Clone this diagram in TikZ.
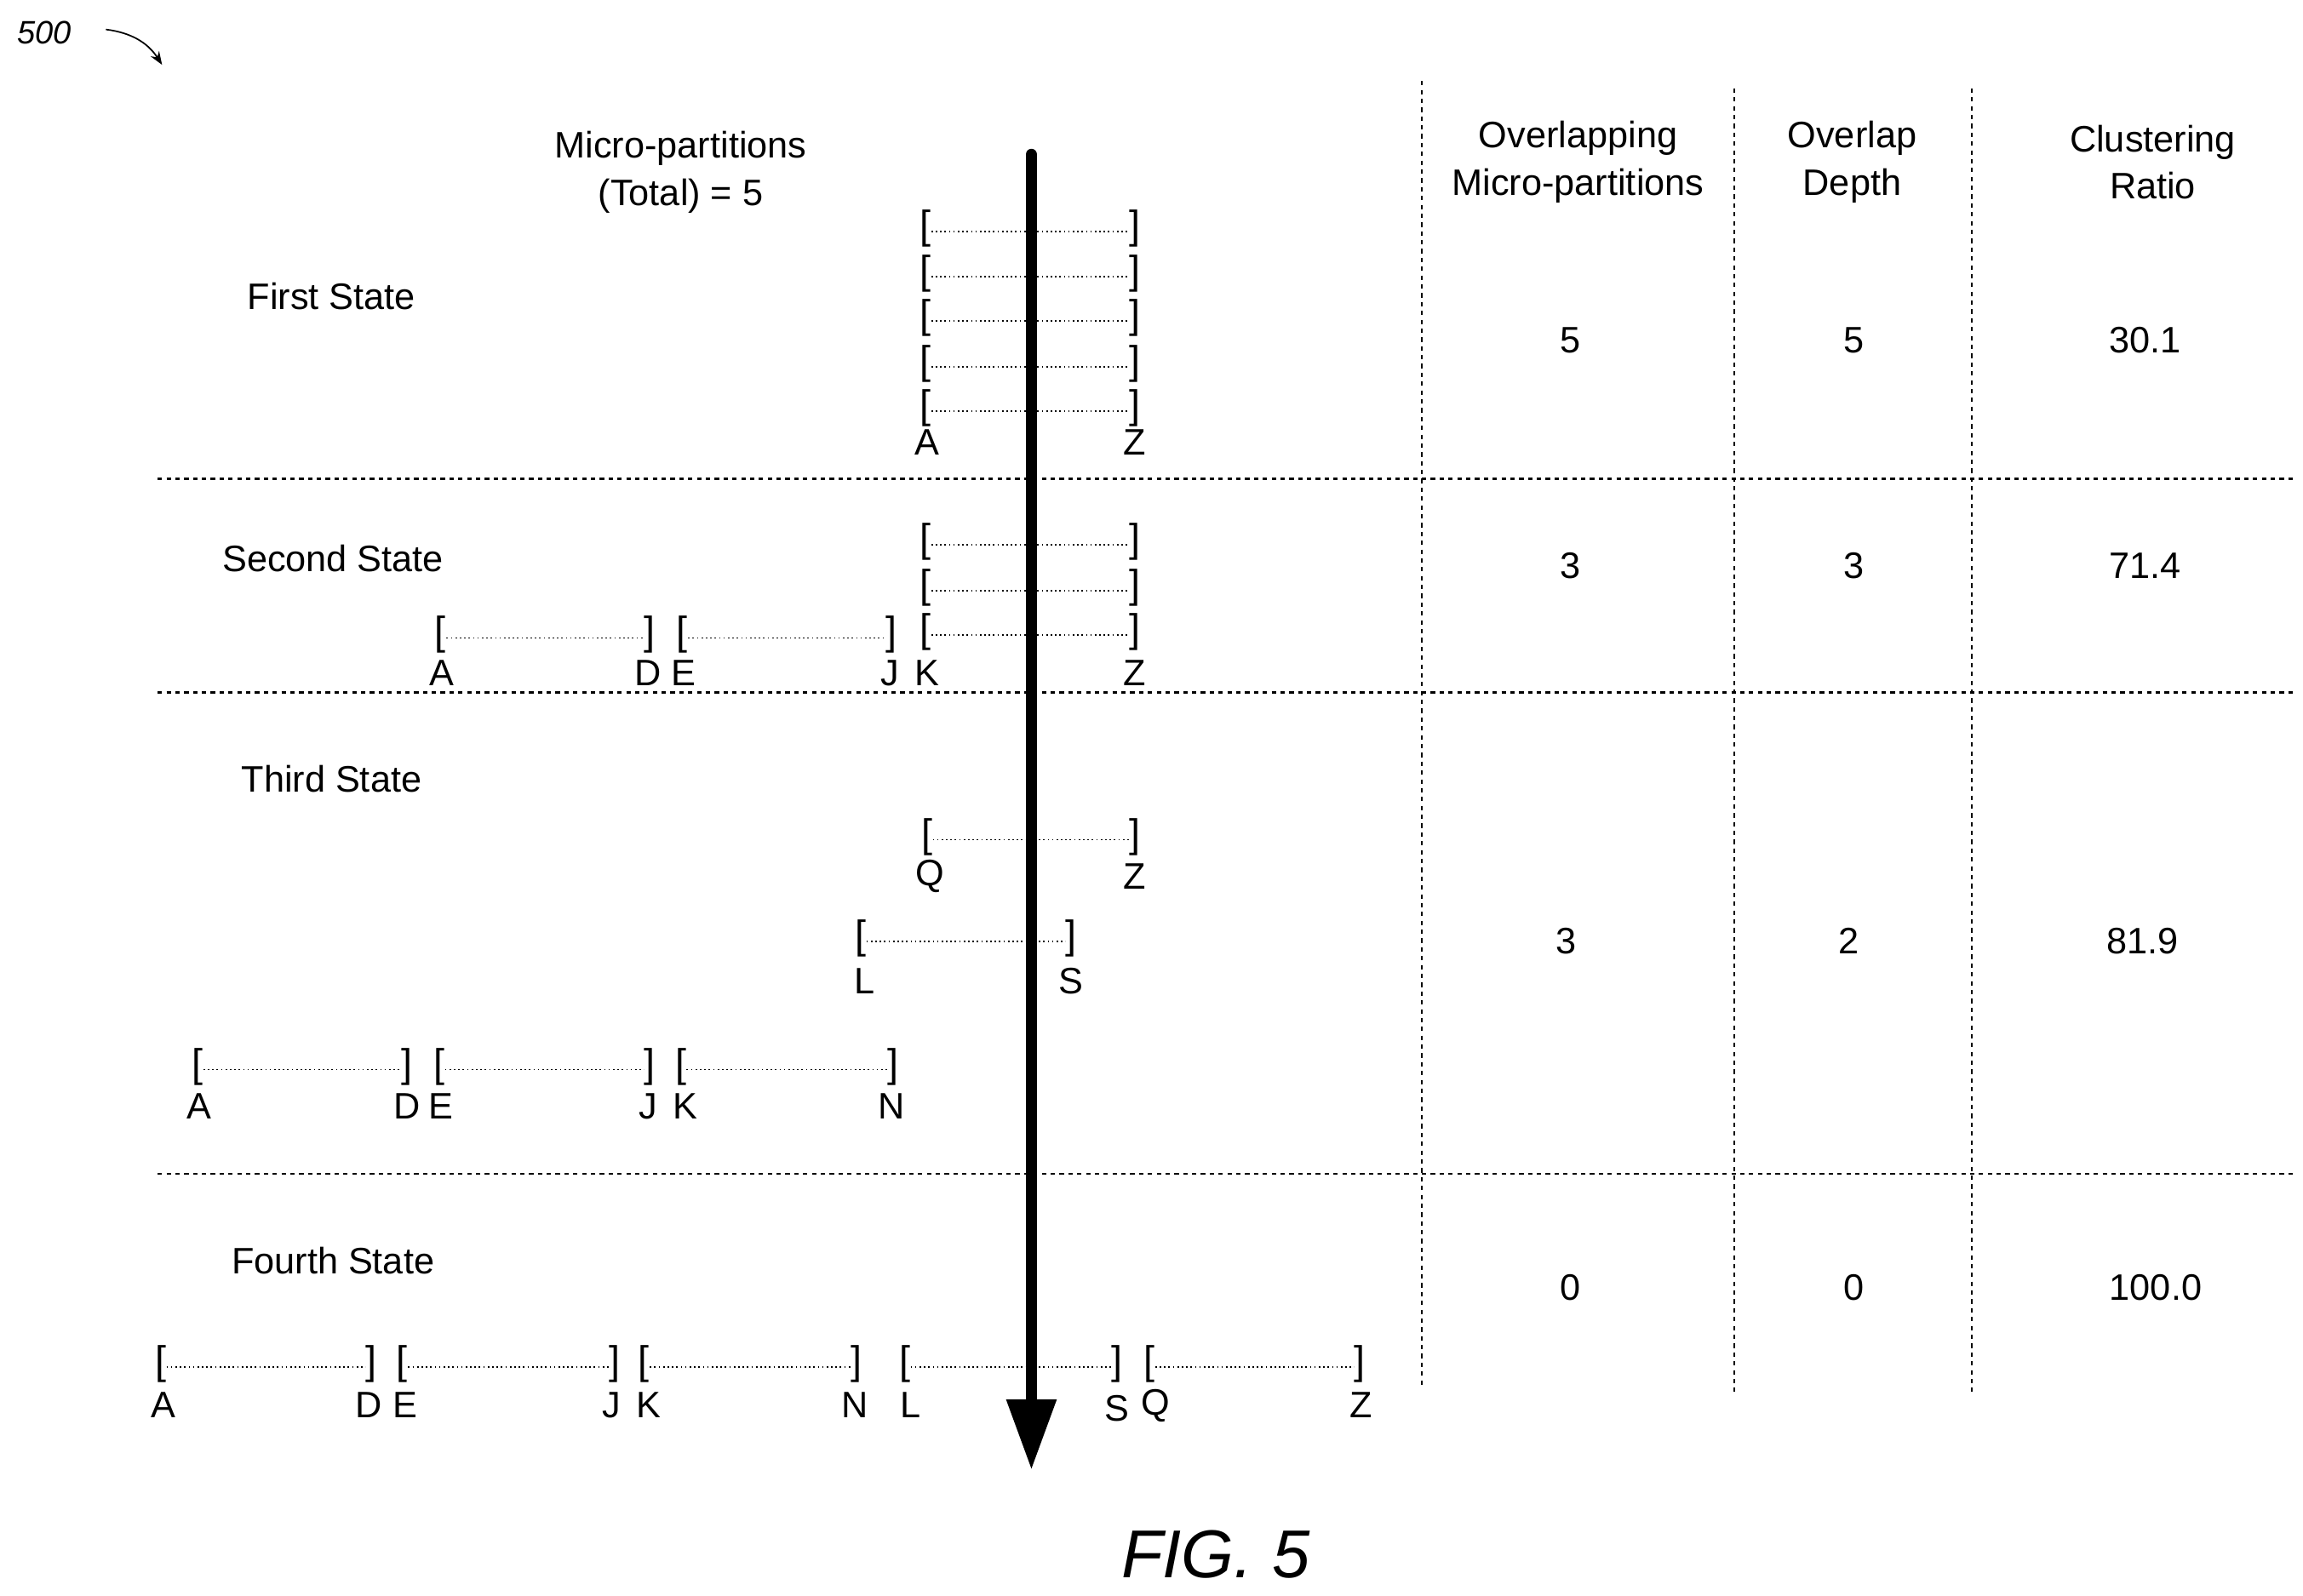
\documentclass[tikz,border=0pt]{standalone}
\usepackage{fontspec}
\setmainfont{Liberation Sans}
\usetikzlibrary{arrows.meta}
\newcommand\seg[4]{%
  \node[br] (#4l) at (#1,#3) {[};
  \node[br] (#4r) at (#2,#3) {]};
  \draw[dotline] ([xshift=4pt,yshift=-2pt]#4l.center) -- ([xshift=-4pt,yshift=-2pt]#4r.center);}
\newcommand\lab[4]{\node[lb] (#3) at (#1,#2) {#4\vphantom{A}};}
\begin{document}
\begin{tikzpicture}[x=1pt,y=-1pt,
  br/.style={font=\fontsize{27}{27}\selectfont, inner sep=0pt},
  lb/.style={font=\fontsize{25}{25}\selectfont, inner sep=0pt},
  dotline/.style={dotted, line width=1pt},
  txt/.style={font=\fontsize{25}{32}\selectfont, align=center, inner sep=0pt},
  sep/.style={line width=1.3pt, dash pattern=on 3pt off 3pt}]
\useasboundingbox[fill=white] (0,0) rectangle (1563,1083);
% reference label
\node[font=\itshape\fontsize{22}{22}\selectfont] (ref) at (30,22) {500};
\coordinate (refe) at (110,44);
\draw[-{Stealth[length=9pt]}, line width=1pt] (ref.east) ++(20,-2) to[bend left=25] (refe);
% separators
\draw[sep] (107,325) -- (1557,325);
\draw[sep] (107,470) -- (1557,470);
\draw[sep] (107,797) -- (1557,797);
\draw[sep] (965,55) -- (965,940);
\draw[sep] (1177,60) -- (1177,945);
\draw[sep] (1338,60) -- (1338,945);
% headers
\node[txt] (h0) at (462,117) {Micro-partitions\\(Total) = 5};
\node[txt] (h1) at (1071,110) {Overlapping\\Micro-partitions};
\node[txt] (h2) at (1257,110) {Overlap\\Depth};
\node[txt] (h3) at (1461,110) {Clustering\\Ratio};
% states
\node[txt] (s1) at (225,201) {First State};
\node[txt] (s2) at (226,379) {Second State};
\node[txt] (s3) at (225,529) {Third State};
\node[txt] (s4) at (226,856) {Fourth State};
% values
\node[txt] (v11) at (1066,231) {5};\node[txt] (v12) at (1258,231) {5};\node[txt] (v13) at (1456,231) {30.1};
\node[txt] (v21) at (1066,384) {3};\node[txt] (v22) at (1258,384) {3};\node[txt] (v23) at (1456,384) {71.4};
\node[txt] (v31) at (1063,639) {3};\node[txt] (v32) at (1255,639) {2};\node[txt] (v33) at (1454,639) {81.9};
\node[txt] (v41) at (1066,874) {0};\node[txt] (v42) at (1258,874) {0};\node[txt] (v43) at (1463,874) {100.0};
% first state
\seg{628}{770}{155}{a1}\seg{628}{770}{186}{a2}\seg{628}{770}{216}{a3}\seg{628}{770}{247}{a4}\seg{628}{770}{277}{a5}
\lab{629}{300}{a1A}{A}\lab{770}{300}{a1Z}{Z}
% second state
\seg{628}{770}{368}{b1}\seg{628}{770}{399}{b2}\seg{628}{770}{429}{b3}
\seg{299}{441}{431}{b4}\seg{463}{605}{431}{b5}
\lab{300}{457}{b2A}{A}\lab{440}{457}{b2D}{D}\lab{464}{457}{b2E}{E}\lab{604}{457}{b2J}{J}\lab{629}{457}{b2K}{K}\lab{770}{457}{b2Z}{Z}
% third state
\seg{629}{770}{568}{c1}
\lab{631}{595}{c3Q}{Q}\lab{770}{595}{c3Z}{Z}
\seg{584}{727}{637}{c2}
\lab{587}{666}{c3L}{L}\lab{727}{666}{c3S}{S}
\seg{134}{276}{724}{c3}\seg{298}{441}{724}{c4}\seg{462}{606}{724}{c5}
\lab{135}{751}{c4A}{A}\lab{276}{751}{c4D}{D}\lab{299}{751}{c4E}{E}\lab{440}{751}{c4J}{J}\lab{465}{751}{c4K}{K}\lab{605}{751}{c4N}{N}
% fourth state
\seg{109}{252}{926}{d1}\seg{273}{417}{926}{d2}\seg{437}{581}{926}{d3}\seg{614}{758}{926}{d4}\seg{780}{923}{926}{d5}
\lab{111}{954}{d5A}{A}\lab{250}{954}{d5D}{D}\lab{275}{954}{d5E}{E}\lab{415}{954}{d5J}{J}\lab{440}{954}{d5K}{K}\lab{580}{954}{d5N}{N}
\lab{618}{954}{d5L}{L}\lab{758}{956}{d5S}{S}\lab{784}{954}{d5Q}{Q}\lab{924}{954}{d5Z}{Z}
% main arrow
\coordinate (top) at (700,105);
\coordinate (bot) at (700,998);
\draw[line width=8pt, line cap=round, -{Triangle[length=48pt,width=32pt]}] (top) -- (bot);
% caption
\node[font=\itshape\fontsize{46}{46}\selectfont] (fig) at (825,1055) {FIG. 5};
\end{tikzpicture}
\end{document}
